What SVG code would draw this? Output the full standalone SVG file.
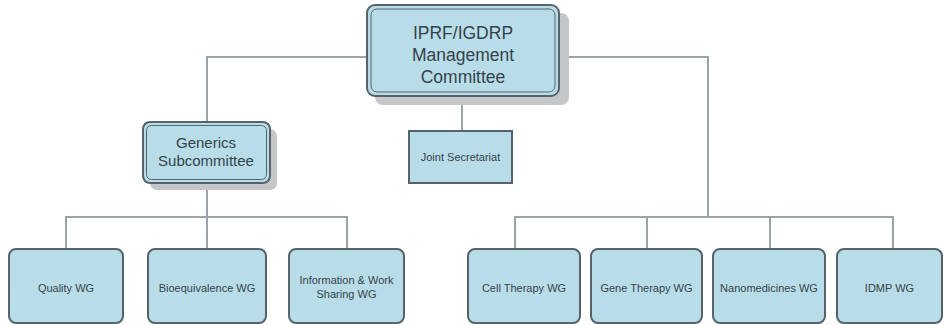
<svg xmlns="http://www.w3.org/2000/svg" width="944" height="325" viewBox="0 0 944 325">
<style>
.box{fill:#b9dde8;stroke:#56636a;stroke-width:2}
.inner{fill:none;stroke:#56636a;stroke-width:1}
.shadow{fill:#c4c6c7}
.conn{fill:none;stroke:#9aa4a9;stroke-width:2}
text{font-family:"Liberation Sans",Arial,sans-serif;fill:#33434c;text-anchor:middle}
.big{font-size:17.5px}
.mid{font-size:15px}
.sm{font-size:11px}
</style>
<rect width="944" height="325" fill="#ffffff"/>
<g id="connectors">
<path class="conn" d="M367 57 H207 V122"/>
<path class="conn" d="M560 57 H708 V217"/>
<path class="conn" d="M462 96 V131"/>
<path class="conn" d="M207 183 V217"/>
<path class="conn" d="M66 249 V217 H347 V249"/>
<path class="conn" d="M207 217 V249"/>
<path class="conn" d="M515 249 V217 H893 V249"/>
<path class="conn" d="M647 217 V249"/>
<path class="conn" d="M770 217 V249"/>
</g>
<g id="mgmt">
<rect class="shadow" x="375" y="13" width="194" height="92" rx="8"/>
<rect class="box" x="367" y="5" width="192" height="91" rx="8"/>
<rect class="inner" x="371" y="9" width="184" height="83" rx="6"/>
<text class="big" x="463" y="39">IPRF/IGDRP</text>
<text class="big" x="463" y="61">Management</text>
<text class="big" x="463" y="83">Committee</text>
</g>
<g id="generics">
<rect class="shadow" x="150" y="129" width="127" height="61" rx="7"/>
<rect class="box" x="143" y="122" width="127" height="61" rx="7"/>
<rect class="inner" x="146.5" y="125.5" width="120" height="54" rx="5"/>
<text class="mid" x="206" y="148">Generics</text>
<text class="mid" x="206" y="166">Subcommittee</text>
</g>
<g id="secretariat">
<rect class="box" x="409" y="131" width="103" height="52"/>
<text class="sm" x="460.5" y="161">Joint Secretariat</text>
</g>
<g id="quality">
<rect class="box" x="9" y="249" width="114" height="74" rx="7"/>
<text class="sm" x="66" y="292">Quality WG</text>
</g>
<g id="bioequivalence">
<rect class="box" x="148" y="249" width="118" height="74" rx="7"/>
<text class="sm" x="207" y="292">Bioequivalence WG</text>
</g>
<g id="infosharing">
<rect class="box" x="289" y="249" width="115" height="74" rx="7"/>
<text class="sm" x="346.5" y="284">Information &amp; Work</text>
<text class="sm" x="346.5" y="298">Sharing WG</text>
</g>
<g id="celltherapy">
<rect class="box" x="468" y="249" width="112" height="74" rx="7"/>
<text class="sm" x="524" y="292">Cell Therapy WG</text>
</g>
<g id="genetherapy">
<rect class="box" x="591" y="249" width="111" height="74" rx="7"/>
<text class="sm" x="646.5" y="292">Gene Therapy WG</text>
</g>
<g id="nanomedicines">
<rect class="box" x="713" y="249" width="112" height="74" rx="7"/>
<text class="sm" x="769" y="292">Nanomedicines WG</text>
</g>
<g id="idmp">
<rect class="box" x="837" y="249" width="105" height="74" rx="7"/>
<text class="sm" x="889.5" y="292">IDMP WG</text>
</g>
</svg>
